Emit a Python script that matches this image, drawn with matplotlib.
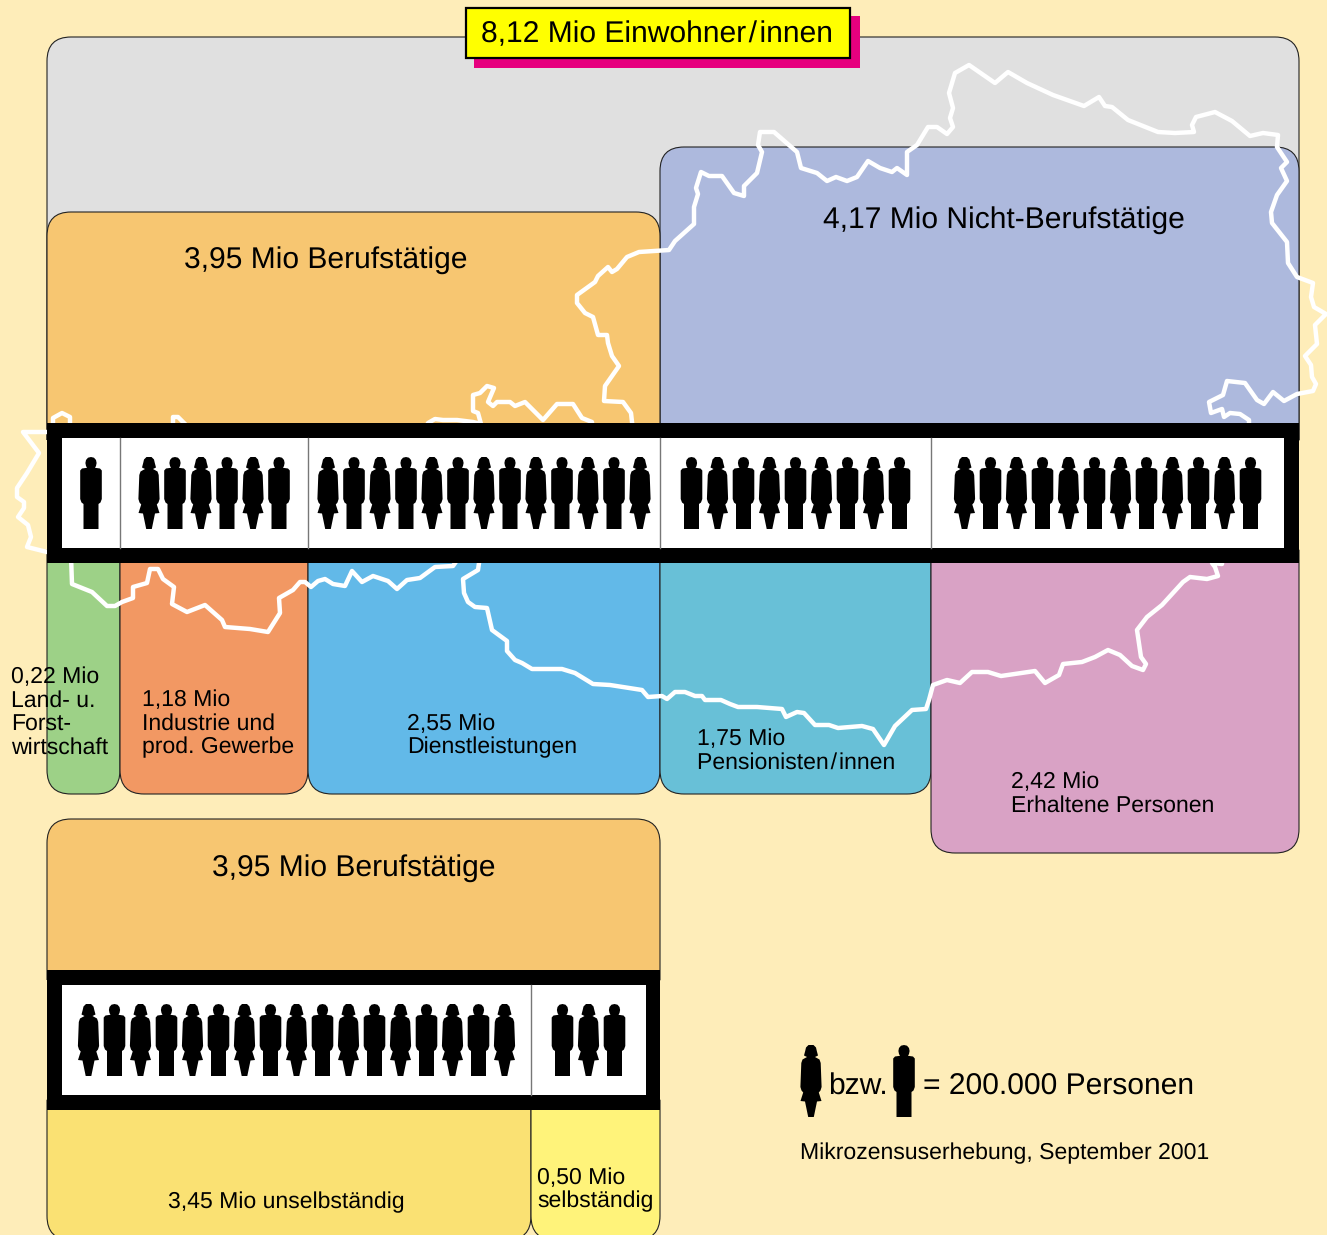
import matplotlib
matplotlib.use("Agg")
import matplotlib.pyplot as plt
from matplotlib.patches import PathPatch, Rectangle
from matplotlib.path import Path
from matplotlib.transforms import Affine2D

plt.rcParams['font.family'] = ['Liberation Sans', 'DejaVu Sans']
plt.rcParams['text.hinting'] = 'no_hinting'
plt.rcParams['text.hinting_factor'] = 1

# values in Mio, one figure stands for 0.2 Mio
upper_values = [0.22, 1.18, 2.55, 1.75, 2.42]
lower_values = [3.45, 0.50]
per_figure = 0.2

slash = "\u200a/\u200a"
upper_labels = ["0,22 Mio\nLand- u.\nForst-\nwirtschaft", "1,18 Mio\nIndustrie und\nprod. Gewerbe",
                "2,55 Mio\nDienstleistungen", "1,75 Mio\nPensionisten" + slash + "innen", "2,42 Mio\nErhaltene Personen"]
lower_labels = ["3,45 Mio unselbständig", "0,50 Mio\nselbständig"]
title = "8,12 Mio Einwohner" + slash + "innen"
working_label = "3,95 Mio Berufstätige"
not_working_label = "4,17 Mio Nicht-Berufstätige"
legend_label = "= 200.000 Personen"
source_label = "Mikrozensuserhebung, September 2001"

upper_colors = ["#9DD187", "#F29863", "#62B9E8", "#68C0D7", "#D9A2C5"]
lower_colors = ["#FAE173", "#FFF37A"]
bg_color = "#FEEDB9"

# map outline of Austria, image pixels, clockwise from the west end
border_pts = [
    (71, 556), (47, 552), (27, 547), (31, 537), (28, 525), (18, 517), (24, 508), (24, 502), (17, 497), (17, 488),
    (27, 473), (39, 453), (23, 432), (50, 432), (53, 423), (53, 418), (62, 413), (70, 417), (70, 430),
    (173, 430), (173, 417), (178, 417), (186, 425), (186, 430),
    (425, 430), (428, 423), (435, 419), (443, 420), (457, 420), (473, 422), (481, 424), (478, 413), (473, 411), (473, 395),
    (480, 393), (487, 386), (494, 388), (488, 402), (493, 406), (497, 402), (510, 402), (515, 406), (525, 402), (543, 420),
    (557, 404), (573, 404), (582, 418), (592, 422), (592, 430),
    (633, 430), (632, 422), (631, 413), (623, 402), (604, 401), (605, 386), (619, 366), (612, 356), (608, 343), (607, 335),
    (598, 335), (593, 317), (585, 313), (577, 303), (577, 295), (595, 282), (598, 276), (608, 267), (612, 272), (617, 269),
    (627, 257), (639, 252), (669, 250), (675, 241), (694, 224), (694, 207), (698, 194), (696, 188), (701, 172), (709, 176),
    (722, 176), (734, 193), (744, 196), (744, 186), (757, 173), (762, 152), (758, 145), (760, 132), (774, 132), (797, 152),
    (801, 168), (817, 173), (827, 181), (836, 177), (847, 181), (857, 177), (868, 161), (880, 168), (892, 172), (897, 168),
    (907, 175), (907, 152), (917, 145), (928, 127), (937, 127), (947, 134), (953, 127), (950, 118), (953, 108), (949, 93),
    (955, 73), (969, 65), (995, 83), (1008, 72), (1027, 83), (1053, 95), (1084, 106), (1099, 97), (1105, 106), (1112, 107),
    (1128, 120), (1158, 132), (1175, 133), (1194, 132), (1192, 125), (1196, 117), (1215, 112), (1232, 121), (1250, 136),
    (1263, 133), (1278, 135), (1277, 147), (1287, 162), (1281, 168), (1287, 181), (1277, 195), (1271, 212), (1272, 223),
    (1287, 242), (1288, 263), (1297, 277), (1313, 283), (1311, 297), (1314, 307), (1326, 314), (1315, 325), (1317, 344),
    (1305, 356), (1311, 365), (1312, 377), (1316, 384), (1313, 391), (1297, 394), (1284, 401), (1273, 392), (1264, 404),
    (1257, 400), (1245, 383), (1227, 381), (1223, 395), (1209, 402), (1211, 413), (1222, 409), (1224, 417), (1230, 413),
    (1240, 414), (1249, 420), (1249, 430),
    (1222, 556), (1222, 564), (1212, 563), (1215, 567), (1218, 576), (1207, 579), (1190, 577), (1183, 582), (1162, 605),
    (1147, 617), (1137, 630), (1141, 657), (1146, 664), (1143, 670), (1132, 666), (1120, 655), (1108, 650), (1095, 657),
    (1082, 662), (1063, 664), (1059, 675), (1045, 683), (1035, 671), (1001, 676), (988, 672), (972, 672), (960, 683),
    (947, 680), (933, 685), (929, 700), (926, 709), (912, 710), (895, 726), (884, 745), (873, 729), (862, 726), (838, 728),
    (829, 725), (815, 725), (804, 713), (797, 712), (786, 717), (782, 709), (757, 707), (738, 707), (730, 704), (721, 700),
    (705, 700), (702, 696), (695, 696), (685, 692), (675, 692), (667, 699), (662, 696), (648, 697), (642, 690), (610, 685),
    (593, 684), (575, 673), (562, 669), (532, 669), (522, 663), (515, 660), (507, 651), (507, 641), (492, 630), (487, 608),
    (475, 607), (468, 602), (464, 593), (463, 579), (478, 570), (480, 556),
    (460, 556), (453, 566), (435, 567), (420, 578), (407, 580), (397, 589), (388, 581), (373, 576), (362, 582), (352, 571),
    (345, 586), (333, 584), (325, 579), (318, 581), (311, 587), (305, 582), (300, 582), (293, 590), (279, 598), (280, 613),
    (268, 632), (250, 629), (225, 627), (222, 620), (205, 605), (187, 612), (172, 604), (174, 587), (163, 579), (158, 569),
    (150, 569), (147, 583), (133, 587), (133, 598), (122, 602), (115, 606), (107, 606), (92, 592), (72, 584), (71, 556)]
border_x = [p[0] for p in border_pts]
border_y = [p[1] for p in border_pts]

fig = plt.figure(figsize=(13.27, 12.35), dpi=100, facecolor=bg_color)
ax = fig.add_axes([0, 0, 1, 1])
ax.set_xlim(0, 1327)
ax.set_ylim(1235, 0)
ax.axis("off")


def panel(x0, x1, y0, y1, color, top=False, bottom=False, r=24, z=1):
    verts = [(x0, y1 - r if bottom else y1), (x0, y0 + r if top else y0)]
    codes = [Path.MOVETO, Path.LINETO]
    if top:
        verts += [(x0, y0), (x0 + r, y0), (x1 - r, y0), (x1, y0), (x1, y0 + r)]
        codes += [Path.CURVE3, Path.CURVE3, Path.LINETO, Path.CURVE3, Path.CURVE3]
    else:
        verts += [(x1, y0)]
        codes += [Path.LINETO]
    if bottom:
        verts += [(x1, y1 - r), (x1, y1), (x1 - r, y1), (x0 + r, y1), (x0, y1), (x0, y1 - r)]
        codes += [Path.LINETO, Path.CURVE3, Path.CURVE3, Path.LINETO, Path.CURVE3, Path.CURVE3]
    else:
        verts += [(x1, y1), (x0, y1)]
        codes += [Path.LINETO, Path.LINETO]
    ax.add_patch(PathPatch(Path(verts, codes), facecolor=color, edgecolor="#222222", lw=0.8, zorder=z))


# local coords, head top at 0, feet at 72
man_body = [(-4, 10.8), (-9, 11.5), (-10.8, 13.5), (-10.8, 42), (-9.5, 45.5), (-7.5, 47), (-7.5, 72), (7.5, 72), (7.5, 47),
            (9.5, 45.5), (10.8, 42), (10.8, 13.5), (9, 11.5), (4, 10.8), (5, 9), (5.6, 6), (5, 3), (3, 0.7), (0, 0),
            (-3, 0.7), (-5, 3), (-5.6, 6), (-5, 9)]
woman_body = [(-4, 12), (-8.5, 14.5), (-9.7, 18), (-10.6, 42), (-9.5, 45.5), (-7.8, 47.5), (-10.5, 56), (-6, 56.5), (-2.8, 72),
              (2.8, 72), (6, 56.5), (10.5, 56), (7.8, 47.5), (9.5, 45.5), (10.6, 42), (9.7, 18), (8.5, 14.5), (4, 12), (7, 10.5),
              (5.8, 6), (5, 2.5), (2.5, 0), (-2.5, 0), (-5, 2.5), (-5.8, 6), (-7, 10.5)]


def figure(cx, top, kind):
    pts = man_body if kind == 0 else woman_body
    tr = Affine2D().translate(cx, top) + ax.transData
    ax.add_patch(PathPatch(Path(pts + [pts[0]], closed=True), facecolor="black", edgecolor="none", transform=tr, zorder=6))


def figures(start_x, end_x, top, value, idx, pitch=26):
    n = int(value / per_figure + 0.5)
    mid = (start_x + end_x) / 2
    first = mid - (n - 1) * pitch / 2
    for i in range(n):
        figure(first + i * pitch, top, idx % 2)
        idx += 1
    return idx


def label(x, y, s, size=16.85, pitch=23.7):
    for i, line in enumerate(s.split("\n")):
        ax.text(x, y + i * pitch, line, fontsize=size, color="black", va="baseline", ha="left", zorder=8)


# upper chart
upper_edges = [47, 120, 308, 660, 931, 1299]
upper_bottoms = [794, 794, 794, 794, 853]
panel(47, 1299, 37, 440, "#E0E0E0", top=True)
panel(660, 1299, 147, 440, "#ADB9DD", top=True)
panel(47, 660, 212, 440, "#F7C671", top=True)
for i in range(5):
    panel(upper_edges[i], upper_edges[i + 1], 550, upper_bottoms[i], upper_colors[i], bottom=True)

ax.plot(border_x, border_y, color="white", lw=3.2, solid_joinstyle="round", zorder=3)

ax.add_patch(Rectangle((47, 423), 1252, 140, facecolor="black", edgecolor="none", zorder=4))
ax.add_patch(Rectangle((62, 438), 1222, 110, facecolor="white", edgecolor="none", zorder=5))
for x in upper_edges[1:5]:
    ax.plot([x, x], [438, 548], color="#777777", lw=1, zorder=5.5)

idx = 0
starts = [62, 120, 308, 660, 931]
ends = [120, 308, 660, 931, 1284]
for i in range(5):
    idx = figures(starts[i], ends[i], 457, upper_values[i], idx)

# lower chart
panel(47, 660, 819, 980, "#F7C671", top=True)
panel(47, 531, 1100, 1240, lower_colors[0], bottom=True)
panel(531, 660, 1100, 1240, lower_colors[1], bottom=True)
ax.add_patch(Rectangle((47, 970), 613, 140, facecolor="black", edgecolor="none", zorder=4))
ax.add_patch(Rectangle((62, 985), 584, 110, facecolor="white", edgecolor="none", zorder=5))
ax.plot([531, 531], [985, 1095], color="#777777", lw=1, zorder=5.5)
idx = 1
idx = figures(62, 531, 1004, lower_values[0], idx)
figures(531, 646, 1004, lower_values[1], idx)

# title box
ax.add_patch(Rectangle((474, 16), 386, 52, facecolor="#E6007E", edgecolor="none", zorder=7))
ax.add_patch(Rectangle((466, 8), 384, 50, facecolor="#FFFF00", edgecolor="black", lw=1.6, zorder=7.5))
label(481, 42, title, size=21.5)

label(184, 268, working_label, size=21.5)
label(823, 228, not_working_label, size=21.5)
label(212, 876, working_label, size=21.5)

label(11, 683, upper_labels[0])
label(142, 706, upper_labels[1])
label(407, 730, upper_labels[2])
label(697, 745, upper_labels[3])
label(1011, 788, upper_labels[4])
label(168, 1208, lower_labels[0])
label(537, 1184, lower_labels[1])

# legend
figure(811, 1045, 1)
figure(904, 1045, 0)
label(828, 1095, "bzw.", size=21.4)
label(923, 1095, legend_label, size=21.4)
label(800, 1159, source_label)

fig.savefig("out.png", dpi=100, facecolor=bg_color)
